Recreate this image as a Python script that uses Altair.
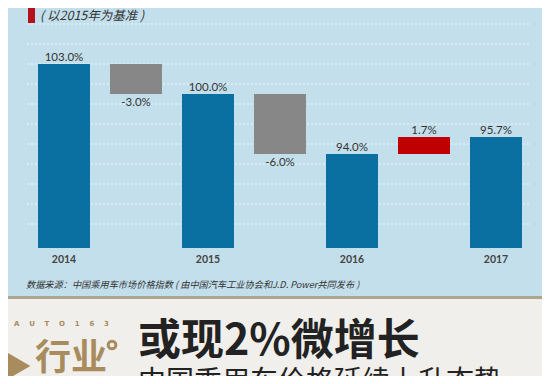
import altair as alt
import pandas as pd

# ---- data ----
years = ["2014", "2015", "2016", "2017"]
totals = [103.0, 100.0, 94.0, 95.7]
changes = [-3.0, -6.0, 1.7]
grid_values = [87, 89, 91, 93, 95, 97, 99, 101, 103, 105, 107]
axis_floor = 84.6

subtitle_note = "( 以2015年为基准 )"
source_note = "数据来源：中国乘用车市场价格指数 ( 由中国汽车工业协会和J.D. Power共同发布 )"
title_text = "或现2%微增长"
subtitle_text = "中国乘用车价格延续上升态势"
brand_text = "\u00a0\u00a0\u00a0\u00a0".join(list("AUTO163"))
logo_text = "行业"

# ---- build waterfall table ----
rows = []
keys = []
for i, (yr, tot) in enumerate(zip(years, totals)):
    k = f"k{len(keys)}"
    keys.append(k)
    rows.append(dict(key=k, low=axis_floor, high=tot, kind="total",
                     label=f"{tot:.1f}%", pos="above", year=yr))
    if i < len(changes):
        c = changes[i]
        k = f"k{len(keys)}"
        keys.append(k)
        rows.append(dict(key=k, low=min(tot, tot + c), high=max(tot, tot + c),
                         kind="up" if c > 0 else "down",
                         label=f"{c:.1f}%", pos="above" if c > 0 else "below", year=""))
df = pd.DataFrame(rows)
grid_df = pd.DataFrame({"g": grid_values})
one = pd.DataFrame({"d": [0]})

W, H = 534, 368
xscale = alt.Scale(domain=keys, range=[20, 524], paddingInner=0.278, paddingOuter=0.139)
yscale = alt.Scale(domain=[71.8, 108.6], zero=False, nice=False)

cjk = "Noto Sans CJK SC"
num_font = "Lato"
tan = "#a88c5e"

grid = alt.Chart(grid_df).mark_rule(stroke="#ffffff", strokeDash=[2, 2], strokeWidth=1, opacity=0.75).encode(
    y=alt.Y("g:Q", scale=yscale, axis=None),
    x=alt.value(19), x2=alt.value(522),
)

bars = alt.Chart(df).mark_bar().encode(
    x=alt.X("key:N", scale=xscale, axis=None, sort=keys),
    y=alt.Y("low:Q", scale=yscale, axis=None),
    y2="high:Q",
    color=alt.Color("kind:N", scale=alt.Scale(domain=["total", "down", "up"],
                                              range=["#0a6fa1", "#878787", "#c00000"]), legend=None),
)

lab_above = alt.Chart(df).transform_filter(alt.datum.pos == "above").mark_text(
    font=num_font, fontSize=11.5, color="#333333", baseline="alphabetic", dy=-3
).encode(
    x=alt.X("key:N", scale=xscale, axis=None, sort=keys),
    y=alt.Y("high:Q", scale=yscale, axis=None),
    text="label:N",
)

lab_below = alt.Chart(df).transform_filter(alt.datum.pos == "below").mark_text(
    font=num_font, fontSize=11.5, color="#333333", baseline="top", dy=3
).encode(
    x=alt.X("key:N", scale=xscale, axis=None, sort=keys),
    y=alt.Y("low:Q", scale=yscale, axis=None),
    text="label:N",
)

year_lab = alt.Chart(df).transform_filter(alt.datum.kind == "total").mark_text(
    font=num_font, fontSize=10.5, fontWeight="bold", color="#444444", baseline="middle"
).encode(
    x=alt.X("key:N", scale=xscale, axis=None, sort=keys),
    y=alt.value(252),
    text="year:N",
)

red_tab = alt.Chart(one).mark_rect(color="#b3121c").encode(
    x=alt.value(20), x2=alt.value(27), y=alt.value(0), y2=alt.value(15))

note = alt.Chart(one).mark_text(font=cjk, fontSize=12.5, fontStyle="italic", color="#333333",
                                align="left", baseline="middle").encode(
    x=alt.value(32), y=alt.value(8), text=alt.value(subtitle_note))

source = alt.Chart(one).mark_text(font=cjk, fontSize=9.2, fontStyle="italic", color="#333333",
                                  align="left", baseline="middle").encode(
    x=alt.value(18), y=alt.value(277), text=alt.value(source_note))

sep = alt.Chart(one).mark_rect(color="#aea78f").encode(
    x=alt.value(0), x2=alt.value(W), y=alt.value(288), y2=alt.value(291))

panel = alt.Chart(one).mark_rect(color="#f0efeb").encode(
    x=alt.value(0), x2=alt.value(W), y=alt.value(291), y2=alt.value(H))

brand = alt.Chart(one).mark_text(font="DejaVu Sans", fontSize=7, fontWeight="bold", color=tan,
                                 align="left", baseline="middle").encode(
    x=alt.value(6), y=alt.value(316), text=alt.value(brand_text))

logo_tri = alt.Chart(one).mark_point(shape="triangle-right", filled=True, color=tan,
                                     opacity=1, size=1800).encode(
    x=alt.value(4), y=alt.value(358))

logo = alt.Chart(one).mark_text(font=cjk, fontSize=36, fontWeight="bold", color=tan,
                                align="left", baseline="top").encode(
    x=alt.value(27), y=alt.value(334), text=alt.value(logo_text))

logo_dot = alt.Chart(one).mark_point(shape="circle", filled=False, color=tan,
                                     strokeWidth=3, size=60, opacity=1).encode(
    x=alt.value(104), y=alt.value(337))

title = alt.Chart(one).mark_text(font=cjk, fontSize=43, fontWeight="bold", color="#222222",
                                 align="left", baseline="alphabetic").encode(
    x=alt.value(130), y=alt.value(347), text=alt.value(title_text))

subtitle = alt.Chart(one).mark_text(font=cjk, fontSize=28, color="#222222",
                                    align="left", baseline="top").encode(
    x=alt.value(130), y=alt.value(361), text=alt.value(subtitle_text))

chart = alt.layer(
    grid, bars, lab_above, lab_below, year_lab, red_tab, note, source,
    sep, panel, brand, logo_tri, logo, logo_dot, title, subtitle
).properties(
    width=W, height=H,
    autosize=alt.AutoSizeParams(type="none"),
    padding=0,
    background="#c3dfeb",
).configure_view(stroke=None)

chart.save("out.html", embed_options={"renderer": "svg", "actions": False})
